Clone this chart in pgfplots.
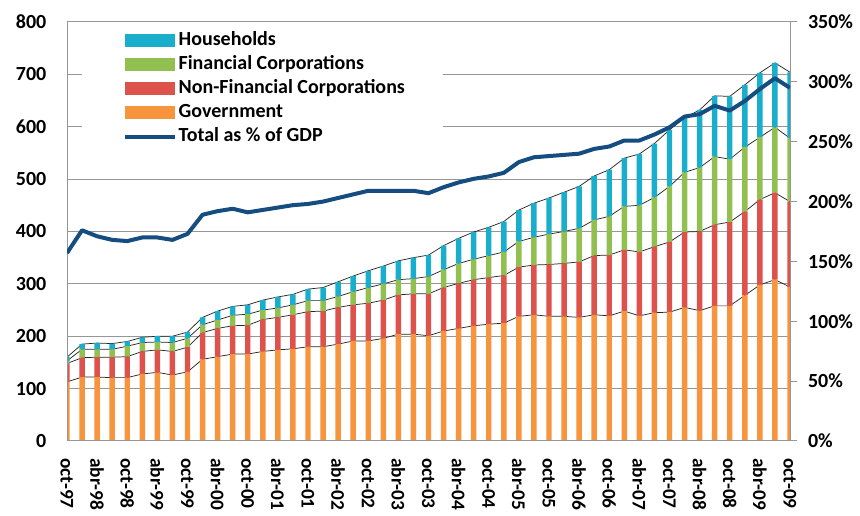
\documentclass[border=0pt]{standalone}
\usepackage{pgfplots}
\pgfplotsset{compat=1.18}
\usepackage{pgfplotstable}
\usepackage{fontspec}
\setmainfont{Carlito}
\definecolor{hhcol}{RGB}{24,174,204}
\definecolor{fccol}{RGB}{146,192,80}
\definecolor{nfccol}{RGB}{222,82,76}
\definecolor{govcol}{RGB}{247,148,62}
\definecolor{linecol}{RGB}{22,77,128}
\definecolor{gridcol}{RGB}{150,150,150}

\pgfplotstableread{
q gov nfc fc hh pct
0 113 35 5 7 157
1 122 37 16 10 176
2 122 38 15 12 171
3 121 39 15 11 168
4 121 40 20 9 167
5 128 43 17 10 170
6 131 43 15 11 170
7 126 45 17 12 168
8 132 47 17 12 173
9 156 51 15 14 189
10 161 54 16 17 192
11 166 54 20 17 194
12 166 55 21 18 191
13 171 61 18 19 193
14 174 62 18 21 195
15 176 65 19 20 197
16 180 67 21 22 198
17 180 68 20 25 200
18 185 70 21 28 203
19 191 69 25 30 206
20 191 72 30 32 209
21 196 73 31 34 209
22 204 75 29 36 209
23 204 77 29 40 209
24 201 80 33 41 207
25 210 83 34 46 212
26 215 86 38 48 216
27 220 88 39 52 219
28 223 89 42 54 221
29 225 91 45 58 224
30 238 94 49 60 233
31 241 95 53 65 237
32 238 99 58 69 238
33 238 101 61 75 239
34 236 106 64 80 240
35 241 113 68 84 244
36 239 116 74 89 246
37 248 117 83 92 251
38 239 122 89 98 251
39 245 126 94 103 256
40 246 134 106 108 262
41 255 144 114 104 271
42 249 151 122 110 273
43 258 155 130 116 280
44 258 160 120 120 276
45 278 160 123 119 284
46 298 163 119 123 294
47 308 166 125 123 303
48 294 163 121 126 295
}\datatable
\pgfplotstablecreatecol[expr={\thisrow{gov}+\thisrow{nfc}}]{tnfc}\datatable
\pgfplotstablecreatecol[expr={\thisrow{tnfc}+\thisrow{fc}}]{tfc}\datatable
\pgfplotstablecreatecol[expr={\thisrow{tfc}+\thisrow{hh}}]{thh}\datatable

\newcommand\chartfont{\fontsize{15}{18}\selectfont\bfseries}
\newcommand\catfont{\fontsize{14.5}{17}\selectfont\bfseries}
\pgfplotsset{
  base/.style={
    scale only axis, width=542.25pt, height=314.25pt,
    at={(50.25pt,56.25pt)}, anchor=south west,
    xmin=0, xmax=48,
    /pgf/number format/assume math mode=true,
  }
}

\begin{document}
\begin{tikzpicture}
\path[use as bounding box] (0,0) rectangle (645pt,387pt);
% grid, left ticks, category labels, series lines
\begin{axis}[base, ymin=0, ymax=800, ytick={0,100,...,800},
  ymajorgrids, grid style={gridcol, line width=0.75pt},
  axis line style={draw=none}, major tick length=0pt,
  xtick={0,2,...,48},
  xticklabels={oct-97,abr-98,oct-98,abr-99,oct-99,abr-00,oct-00,abr-01,oct-01,abr-02,oct-02,abr-03,oct-03,abr-04,oct-04,abr-05,oct-05,abr-06,oct-06,abr-07,oct-07,abr-08,oct-08,abr-09,oct-09},
  xticklabel style={rotate=-90, anchor=west, font=\catfont},
  yticklabel style={font=\chartfont},
  xticklabel shift=9.5pt, yticklabel shift=12pt,
]
\addplot[black!85, line width=0.55pt] table[x=q,y=gov]{\datatable};
\addplot[black!85, line width=0.55pt] table[x=q,y=tnfc]{\datatable};
\addplot[black!85, line width=0.55pt] table[x=q,y=tfc]{\datatable};
\addplot[black!85, line width=0.55pt] table[x=q,y=thh]{\datatable};
\end{axis}
% stacked bars
\begin{axis}[base, ymin=0, ymax=800, hide axis, ybar stacked, bar width=0.36]
\addplot[fill=govcol, draw=none] table[x=q,y=gov]{\datatable};
\addplot[fill=nfccol, draw=none] table[x=q,y=nfc]{\datatable};
\addplot[fill=fccol, draw=none] table[x=q,y=fc]{\datatable};
\addplot[fill=hhcol, draw=none] table[x=q,y=hh]{\datatable};
\end{axis}
% percentage axis, frame, legend
\begin{axis}[base, ymin=0, ymax=350, ytick={0,50,...,350},
  axis line style={gridcol, line width=0.75pt},
  xtick=\empty, ytick pos=right, yticklabel pos=right,
  tick align=outside, major tick length=5pt,
  ytick style={gridcol, line width=0.75pt},
  yticklabel={\pgfmathprintnumber{\tick}\%},
  yticklabel style={font=\chartfont},
  yticklabel shift=5pt,
  legend style={at={(0.0775,0.985)}, anchor=north west, draw=none, fill=none,
    font=\chartfont, inner sep=0pt, row sep=0pt, column sep=0pt,
    nodes={inner sep=1.5pt, text height=11pt, text depth=4pt}},
  legend cell align=left,
]
\fill[white] (rel axis cs:0.0207,0.683) rectangle (rel axis cs:0.52,0.988);
\addlegendimage{legend image code/.code={\fill[hhcol] (0pt,-4.5pt) rectangle (37pt,4.5pt);}}
\addlegendentry{Households}
\addlegendimage{legend image code/.code={\fill[fccol] (0pt,-4.5pt) rectangle (37pt,4.5pt);}}
\addlegendentry{Financial Corporations}
\addlegendimage{legend image code/.code={\fill[nfccol] (0pt,-4.5pt) rectangle (37pt,4.5pt);}}
\addlegendentry{Non-Financial Corporations}
\addlegendimage{legend image code/.code={\fill[govcol] (0pt,-4.5pt) rectangle (37pt,4.5pt);}}
\addlegendentry{Government}
\addplot[linecol, line width=3pt, line join=round, legend image code/.code={\draw[linecol, line width=3pt] (0pt,0pt) -- (37pt,0pt);}] table[x=q,y=pct]{\datatable};
\addlegendentry{Total as \% of GDP}
\end{axis}
\end{tikzpicture}
\end{document}
